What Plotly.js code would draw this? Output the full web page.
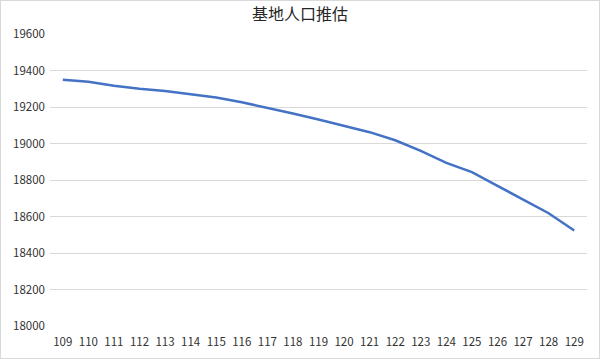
<!DOCTYPE html>
<html>
<head>
<meta charset="utf-8">
<script src="https://cdn.plot.ly/plotly-3.0.1.min.js"></script>
<style>
html,body{margin:0;padding:0;background:#fff;}
#chart{width:598px;height:357px;border:1px solid #D9D9D9;}
</style>
</head>
<body>
<div id="chart"></div>
<script>
const years = ["109","110","111","112","113","114","115","116","117","118","119","120","121","122","123","124","125","126","127","128","129"];
const population = [19349, 19338, 19317, 19300, 19288, 19270, 19252, 19226, 19197, 19164, 19131, 19096, 19062, 19018, 18960, 18894, 18843, 18768, 18695, 18618, 18523];
const yTicks = [18000, 18200, 18400, 18600, 18800, 19000, 19200, 19400, 19600];
const chartTitle = "基地人口推估";

const fontFam = "'Noto Sans CJK TC', 'Noto Sans', sans-serif";

Plotly.newPlot('chart', [{
  x: years,
  y: population,
  type: 'scatter',
  mode: 'lines',
  line: {color: '#4472C4', width: 2.5},
  hoverinfo: 'x+y'
}], {
  width: 598,
  height: 357,
  margin: {l: 49, r: 12, t: 33, b: 32},
  paper_bgcolor: '#fff',
  plot_bgcolor: '#fff',
  showlegend: false,
  title: {text: chartTitle, x: 0.5, xanchor: 'center', y: 0.962, yanchor: 'middle',
          font: {family: fontFam, size: 16, color: '#262626'}},
  xaxis: {
    type: 'category',
    range: [-0.5, years.length - 0.5],
    showgrid: false,
    zeroline: false,
    showline: false,
    ticks: '',
    tickfont: {family: fontFam, size: 11.5, color: '#333333'},
    ticklabelstandoff: 7
  },
  yaxis: {
    range: [18000, 19600],
    tickvals: yTicks,
    ticktext: yTicks.map(String),
    showgrid: true,
    gridcolor: '#D9D9D9',
    gridwidth: 1,
    zeroline: false,
    showline: false,
    ticks: '',
    tickfont: {family: fontFam, size: 11.5, color: '#333333'},
    ticklabelstandoff: 4
  }
}, {displayModeBar: false, staticPlot: true});
</script>
</body>
</html>
